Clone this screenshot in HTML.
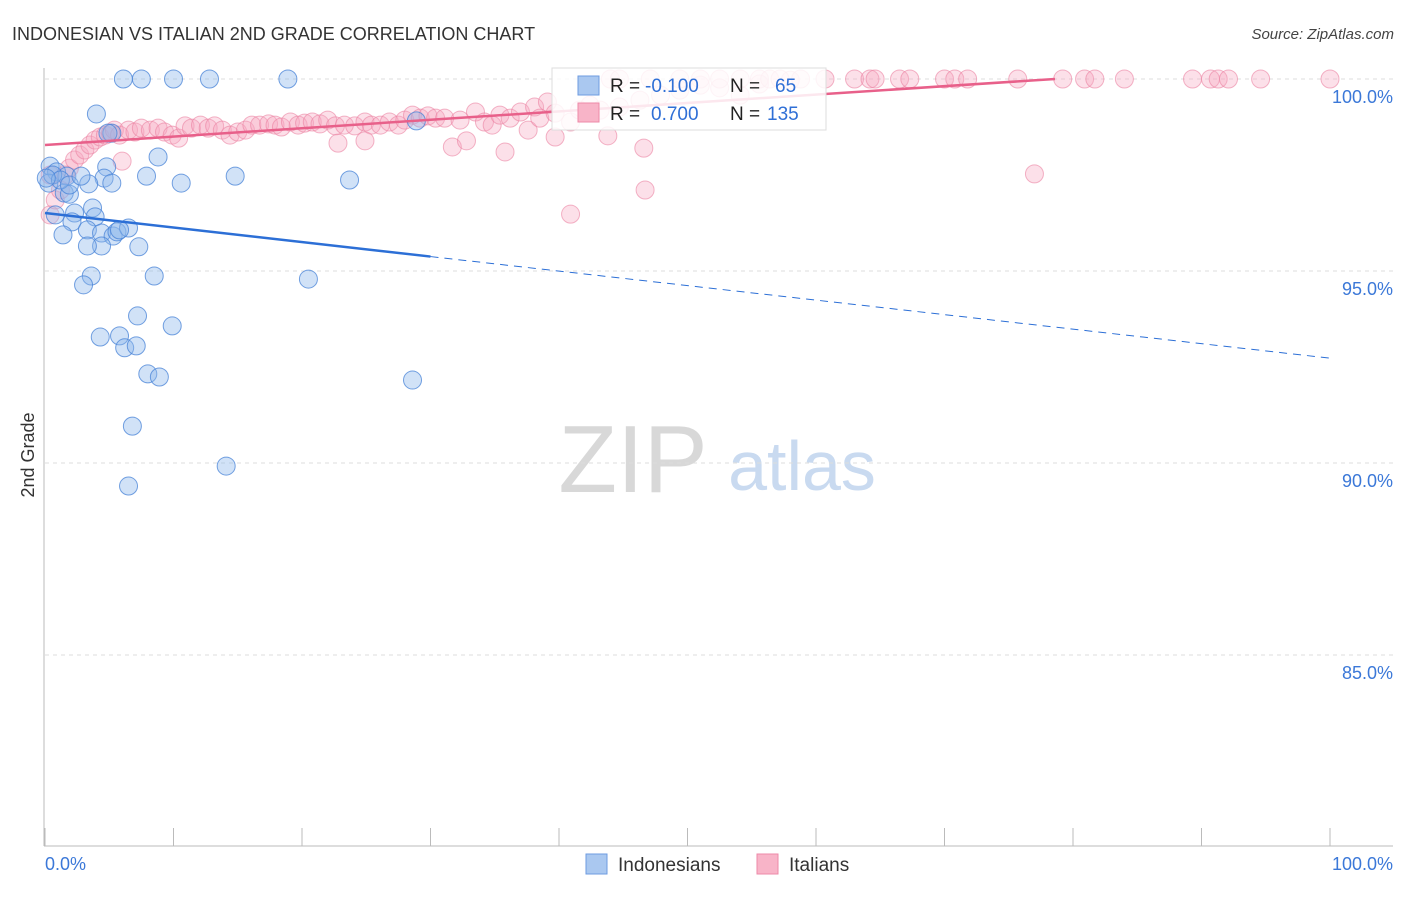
<!DOCTYPE html>
<html><head><meta charset="utf-8"><style>
body{margin:0;background:#fff;font-family:"Liberation Sans",sans-serif}
svg text{font-family:"Liberation Sans",sans-serif}
</style></head><body>
<svg id="chart" width="1406" height="892" xmlns="http://www.w3.org/2000/svg">
<text x="12" y="40" font-size="18" fill="#333">INDONESIAN VS ITALIAN 2ND GRADE CORRELATION CHART</text>
<text x="1394" y="39" font-size="15" fill="#444" font-style="italic" text-anchor="end">Source: ZipAtlas.com</text>
<g>
<text x="633" y="492" font-size="96" fill="#d8d8d8" font-family="Liberation Serif, serif" text-anchor="middle">ZIP</text>
<text x="802" y="490" font-size="70" fill="#c9daf0" text-anchor="middle">atlas</text>
</g>
<g id="grid"></g>
<g id="axes"></g>
<g id="pts"></g>
<g id="lines"></g>
<text x="34" y="455" font-size="18" fill="#333" text-anchor="middle" transform="rotate(-90 34 455)">2nd Grade</text>
<g>
<rect x="552" y="68" width="274" height="62" fill="#fff" fill-opacity="0.85" stroke="#ddd"/>
<rect x="578" y="76" width="21" height="19" fill="#aac8f0" stroke="#6e9be0"/>
<text x="610" y="92" font-size="19" fill="#222">R =</text>
<text x="645" y="92" font-size="19" fill="#2f6fd6">-0.100</text>
<text x="730" y="92" font-size="19" fill="#222">N =</text>
<text x="775" y="92" font-size="19" fill="#2f6fd6">65</text>
<rect x="578" y="103" width="21" height="19" fill="#f8b4c8" stroke="#ee8aa8"/>
<text x="610" y="120" font-size="19" fill="#222">R =</text>
<text x="651" y="120" font-size="19" fill="#2f6fd6">0.700</text>
<text x="730" y="120" font-size="19" fill="#222">N =</text>
<text x="767" y="120" font-size="19" fill="#2f6fd6">135</text>
</g>
<g>
<rect x="586" y="854" width="21" height="20" fill="#aac8f0" stroke="#6e9be0"/>
<text x="618" y="871" font-size="19" fill="#333">Indonesians</text>
<rect x="757" y="854" width="21" height="20" fill="#f8b4c8" stroke="#ee8aa8"/>
<text x="789" y="871" font-size="19" fill="#333">Italians</text>
</g>
</svg>
<script>
const blueX=[6.1,7.5,10.0,12.8,18.9,4.0,8.8,5.2,0.4,0.9,1.7,4.8,4.6,5.2,3.4,7.9,10.6,14.8,23.7,0.3,1.5,1.9,3.7,3.9,2.3,0.8,2.1,1.4,3.3,4.4,5.3,5.6,6.5,5.8,4.4,3.3,7.3,8.5,3.6,3.0,20.5,7.2,9.9,4.3,5.8,6.2,7.1,8.0,8.9,28.6,6.8,14.1,6.5,28.9,0.6,1.2,0.1,1.9,4.9,2.8];
const blueY=[100,100,100,100,100,99.09,97.97,98.59,97.73,97.58,97.47,97.71,97.42,97.29,97.27,97.47,97.29,97.47,97.37,97.29,97.03,97.0,96.64,96.41,96.51,96.46,96.28,95.94,96.07,95.99,95.91,96.02,96.12,96.07,95.65,95.65,95.63,94.87,94.87,94.64,94.79,93.83,93.57,93.28,93.31,93.0,93.05,92.32,92.24,92.16,90.96,89.92,89.4,98.91,97.5,97.37,97.42,97.24,98.59,97.47];
const pinkX=[0.4,0.8,1.2,1.6,1.9,2.3,2.7,3.1,3.5,3.9,4.3,4.7,5.1,5.4,5.8,6.5,7.0,7.5,8.2,8.8,9.3,9.9,10.4,10.9,11.4,12.1,12.7,13.2,13.8,14.4,15.0,15.6,16.1,16.7,17.4,17.9,18.4,19.1,19.7,20.2,20.8,21.4,22.0,22.6,23.3,24.1,24.9,25.4,26.1,26.8,27.5,28.0,28.6,29.2,29.8,30.4,31.1,32.3,33.5,34.2,34.8,35.4,36.2,37.0,37.6,38.1,38.5,39.1,39.7,40.9,41.6,42.4,43.2,44.7,46.3,47.9,49.4,51.0,52.5,54.1,55.6,58.0,
77.0,46.7,46.6,43.8,40.9,35.8,31.7,32.8,22.8,24.9,39.7,6.0,0.4,
44.0,44.7,47.1,49.4,51.0,52.5,54.1,55.6,56.4,57.2,58.8,60.7,63.0,64.2,64.6,66.5,67.3,70.0,70.8,71.8,75.7,79.2,80.9,81.7,84.0,89.3,90.7,91.3,92.1,94.6,100];
const pinkY=[96.46,96.85,97.11,97.5,97.68,97.89,98.02,98.15,98.28,98.41,98.49,98.54,98.59,98.67,98.54,98.67,98.62,98.72,98.67,98.72,98.62,98.54,98.46,98.78,98.72,98.80,98.72,98.78,98.67,98.54,98.62,98.67,98.80,98.80,98.83,98.80,98.75,98.88,98.80,98.85,98.88,98.83,98.93,98.78,98.80,98.78,98.88,98.80,98.80,98.88,98.80,98.93,99.06,98.98,99.04,98.98,98.98,98.93,99.14,98.88,98.80,99.06,98.98,99.14,98.67,99.27,98.98,99.40,99.11,98.88,99.19,99.32,99.19,99.27,99.45,99.58,99.71,99.84,99.77,99.58,99.87,99.97,
97.53,97.11,98.2,98.52,96.48,98.1,98.23,98.39,98.33,98.39,98.49,97.86,97.5,
100,100,100,100,100,100,100,100,100,100,100,100,100,100,100,100,100,100,100,100,100,100,100,100,100,100,100,100,100,100,100];
const yTicks=[100,95,90,85];
const yTickLabels=["100.0%","95.0%","90.0%","85.0%"];
const xTicks=[0,10,20,30,40,50,60,70,80,90,100];
const blueTrend=[96.51,-0.0378];
const pinkTrend=[98.28,0.0219];
const pinkTrendEnd=78.6, blueSolidEnd=30, blueDashEnd=100;

const X=v=>45+v*12.85, Y=v=>79+(100-v)*38.4;
const NS="http://www.w3.org/2000/svg";
function mk(t,a,p){const e=document.createElementNS(NS,t);for(const k in a)e.setAttribute(k,a[k]);p.appendChild(e);return e;}
const grid=document.getElementById('grid'),axes=document.getElementById('axes'),pts=document.getElementById('pts'),lines=document.getElementById('lines');
yTicks.forEach((t,i)=>{
 const l=mk('line',{x1:45,x2:1393,y1:Y(t),y2:Y(t),stroke:'#ddd','stroke-dasharray':'4 4'},grid);
 
 
 const tx=mk('text',{x:1393,y:Y(t)+24,'font-size':18,fill:'#3b78d8','text-anchor':'end'},axes);
 tx.textContent=yTickLabels[i];
 
 
});
mk('line',{x1:44,x2:44,y1:68,y2:846,stroke:'#bbb'},axes);
mk('line',{x1:44,x2:1393,y1:846,y2:846,stroke:'#bbb'},axes);
xTicks.forEach(t=>{
 const l=mk('line',{x1:X(t),x2:X(t),y1:828,y2:846,stroke:'#bbb'},axes);
 
 
});
let t1=mk('text',{x:45,y:870,'font-size':18,fill:'#3b78d8'},axes);t1.textContent='0.0%';


let t2=mk('text',{x:1393,y:870,'font-size':18,fill:'#3b78d8','text-anchor':'end'},axes);t2.textContent='100.0%';


pinkX.forEach((x,i)=>{
 const c=mk('circle',{cx:X(x),cy:Y(pinkY[i]),r:9,fill:'rgba(246,165,192,0.35)',stroke:'rgba(235,130,162,0.6)','stroke-width':1},pts);
 
 
});
blueX.forEach((x,i)=>{
 const c=mk('circle',{cx:X(x),cy:Y(blueY[i]),r:9,fill:'rgba(140,182,236,0.4)',stroke:'rgba(70,130,215,0.75)','stroke-width':1},pts);
 
 
});
const pl=mk('line',{x1:X(0),y1:Y(pinkTrend[0]),x2:X(pinkTrendEnd),y2:Y(pinkTrend[0]+pinkTrend[1]*pinkTrendEnd),stroke:'#e8608a','stroke-width':2.5},lines);


const bl=mk('line',{x1:X(0),y1:Y(blueTrend[0]),x2:X(blueSolidEnd),y2:Y(blueTrend[0]+blueTrend[1]*blueSolidEnd),stroke:'#2c6fd6','stroke-width':2.5},lines);


const bd=mk('line',{x1:X(blueSolidEnd),y1:Y(blueTrend[0]+blueTrend[1]*blueSolidEnd),x2:X(blueDashEnd),y2:Y(blueTrend[0]+blueTrend[1]*blueDashEnd),stroke:'#2c6fd6','stroke-width':1,'stroke-dasharray':'8 6'},lines);


</script>
</body></html>
